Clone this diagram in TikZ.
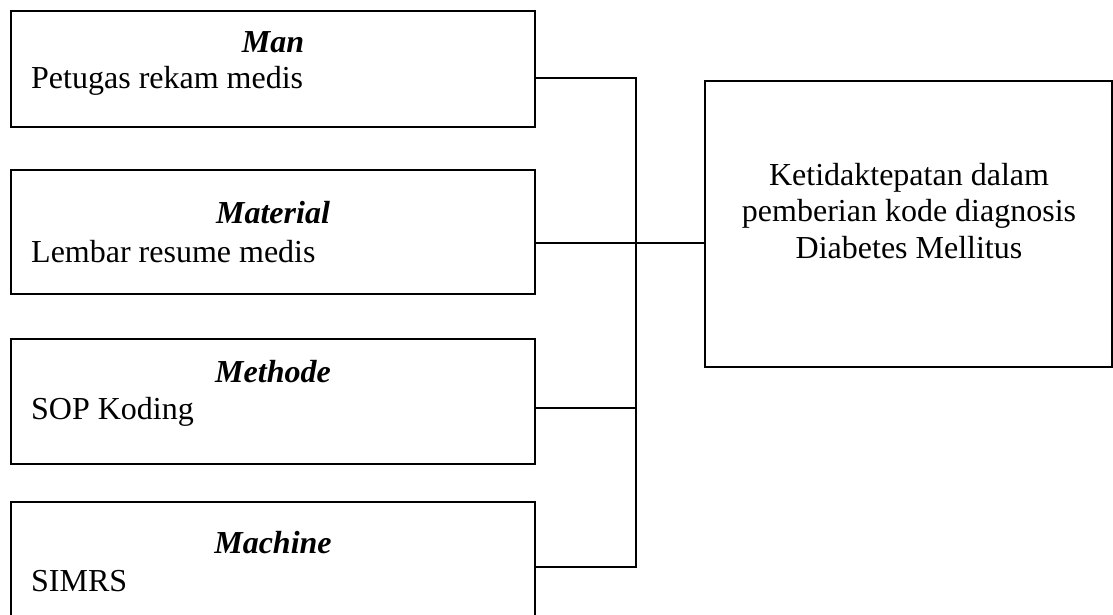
\documentclass[tikz,border=0pt]{standalone}
\usepackage{fontspec}
\setmainfont{Liberation Serif}
\tikzset{
  box/.style={draw, line width=2pt, minimum width=524pt, inner sep=0pt},
  ttl/.style={anchor=base, inner sep=0pt, font=\fontsize{32}{36.5}\selectfont\bfseries\itshape},
  txt/.style={anchor=base west, inner sep=0pt, font=\fontsize{32}{36.5}\selectfont},
  conn/.style={line width=2pt}
}
\begin{document}
\begin{tikzpicture}[x=1pt,y=-1pt]
\useasboundingbox (0,0) rectangle (1113,614);
\clip (0,0) rectangle (1113,614);
% left boxes
\node[box, minimum height=116pt] (b1) at (273,69) {};
\node[box, minimum height=124pt] (b2) at (273,232) {};
\node[box, minimum height=125pt] (b3) at (273,401.5) {};
\node[box, minimum height=140pt] (b4) at (273,572) {};
% right box
\node[draw, line width=2pt, minimum width=407pt, minimum height=286pt, inner sep=0pt] (r) at (908.5,224) {};
% texts
\node[ttl] (t1) at (273,52) {Man};
\node[txt] (s1) at (31,88) {Petugas rekam medis};
\node[ttl] (t2) at (273,223) {Material};
\node[txt] (s2) at (31,262) {Lembar resume medis};
\node[ttl] (t3) at (273,382) {Methode};
\node[txt] (s3) at (31,419) {SOP Koding};
\node[ttl] (t4) at (273,553) {Machine};
\node[txt] (s4) at (31,591) {SIMRS};
\node[anchor=base, inner sep=0pt, align=center, font=\fontsize{32}{36.5}\selectfont] (rt) at (909,258) {Ketidaktepatan dalam\\pemberian kode diagnosis\\Diabetes Mellitus};
% connectors
\coordinate (j1) at (636,78);
\coordinate (j2) at (636,243);
\coordinate (j3) at (636,408);
\coordinate (j4) at (636,567);
\draw[conn] (b1.east |- j1) -- (j1) -- (j4) -- (b4.east |- j4);
\draw[conn] (b2.east |- j2) -- (r.west |- j2);
\draw[conn] (b3.east |- j3) -- (j3);
\end{tikzpicture}
\end{document}
